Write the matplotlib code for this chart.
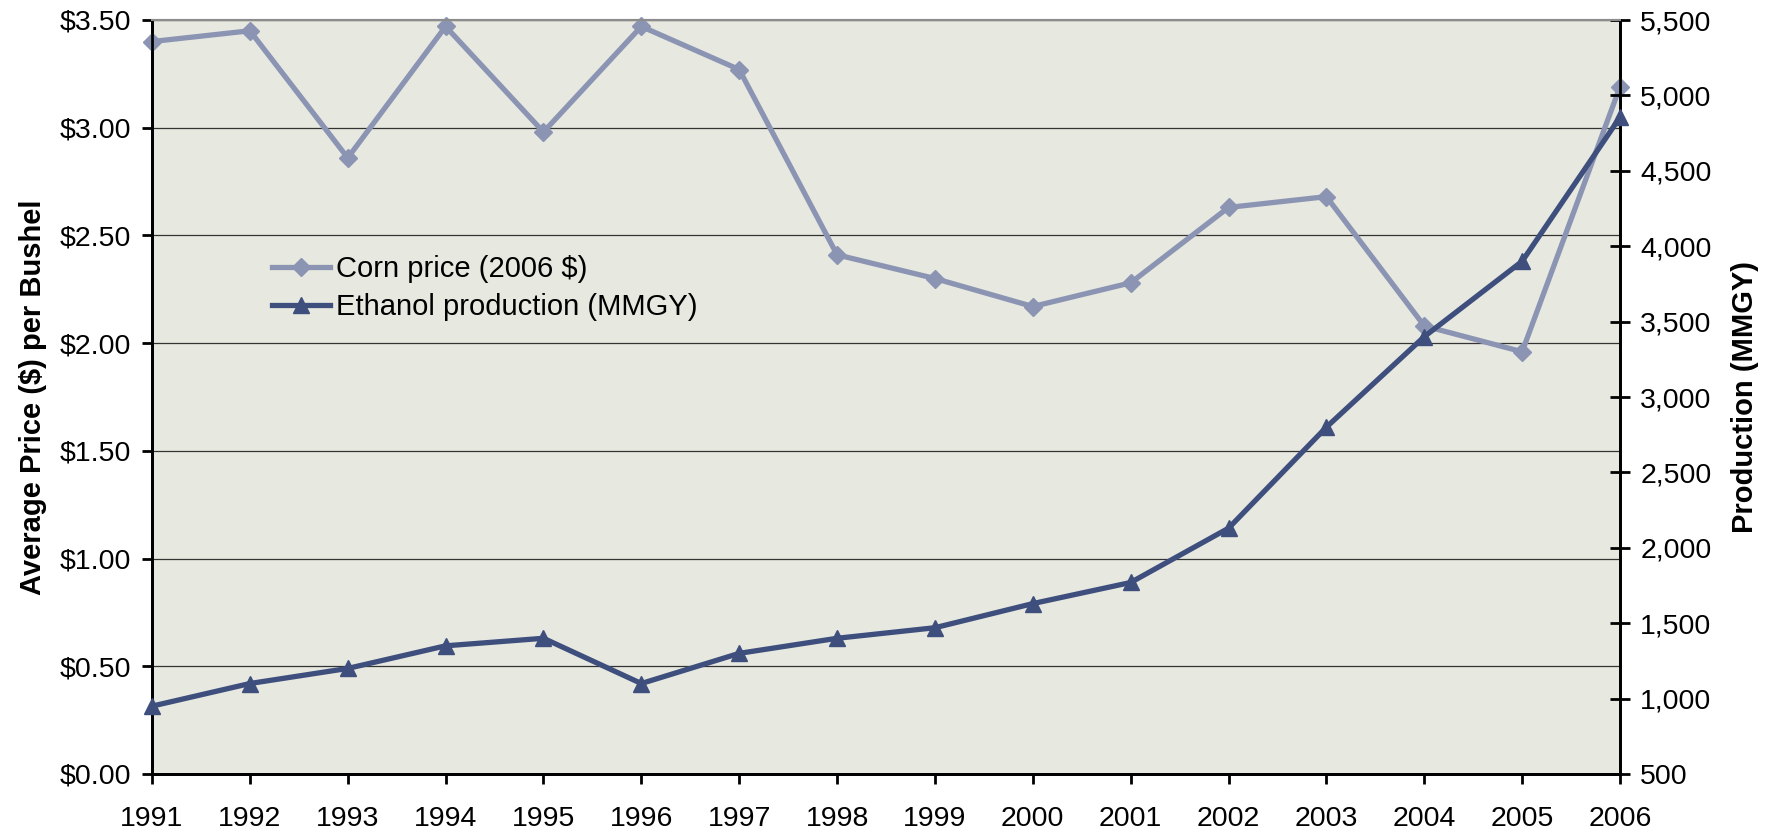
import matplotlib
matplotlib.use("Agg")
import matplotlib.pyplot as plt
from matplotlib.ticker import FuncFormatter, MultipleLocator

plt.rcParams["font.family"] = ["Liberation Sans", "DejaVu Sans"]

years = list(range(1991, 2007))
corn_price = [3.40, 3.45, 2.86, 3.47, 2.98, 3.47, 3.27, 2.41,
              2.30, 2.17, 2.28, 2.63, 2.68, 2.08, 1.96, 3.19]
ethanol_mmgy = [950, 1100, 1200, 1350, 1400, 1100, 1300, 1400,
                1470, 1630, 1770, 2130, 2800, 3400, 3900, 4855]

CORN_COLOR = "#8b95b3"
ETH_COLOR = "#3e4f7e"
BG = "#e7e8df"

fig = plt.figure(figsize=(17.82, 8.33), dpi=100)
ax = fig.add_axes([152 / 1782, 59 / 833, 1468 / 1782, 754 / 833])
ax.set_facecolor(BG)

ax.plot(years, corn_price, color=CORN_COLOR, lw=3.8, marker="D", ms=9,
        label="Corn price (2006 $)", clip_on=False, zorder=3)
ax.set_xlim(1991, 2006)
ax.set_ylim(0, 3.5)
ax.yaxis.set_major_locator(MultipleLocator(0.5))
ax.yaxis.set_major_formatter(FuncFormatter(lambda v, _: f"${v:.2f}"))
ax.set_xticks(years)
ax.grid(axis="y", color="#333333", lw=0.9)
ax.set_axisbelow(True)
ax.set_ylabel("Average Price ($) per Bushel", fontsize=21, fontweight="bold",
              labelpad=9)

ax2 = ax.twinx()
ax2.plot(years, ethanol_mmgy, color=ETH_COLOR, lw=3.8, marker="^", ms=11,
         label="Ethanol production (MMGY)", clip_on=False, zorder=3)
ax2.set_ylim(500, 5500)
ax2.yaxis.set_major_locator(MultipleLocator(500))
ax2.yaxis.set_major_formatter(FuncFormatter(lambda v, _: f"{v:,.0f}"))
ax2.set_ylabel("Production (MMGY)", fontsize=21, fontweight="bold",
               labelpad=14)

for a in (ax, ax2):
    for side in ("left", "bottom", "right"):
        a.spines[side].set_linewidth(2.0)
        a.spines[side].set_color("black")
    a.spines["top"].set_color("#8c8c8c")
    a.spines["top"].set_linewidth(1.5)

ax.tick_params(axis="y", direction="out", length=7, width=2, labelsize=20.5, pad=8)
ax.tick_params(axis="x", direction="out", length=7, width=2, labelsize=20.5, pad=16)
ax2.tick_params(axis="y", direction="inout", length=15, width=2, labelsize=20.5, pad=7)

h1, l1 = ax.get_legend_handles_labels()
h2, l2 = ax2.get_legend_handles_labels()
ax2.legend(h1 + h2, l1 + l2, loc="upper left", bbox_to_anchor=(272 / 1782, 1 - 255 / 833),
           bbox_transform=fig.transFigure, frameon=False, fontsize=21,
           handlelength=2.0, handletextpad=0.2, labelspacing=0.35, borderaxespad=0,
           borderpad=0)

fig.savefig("out.png", dpi=100)
